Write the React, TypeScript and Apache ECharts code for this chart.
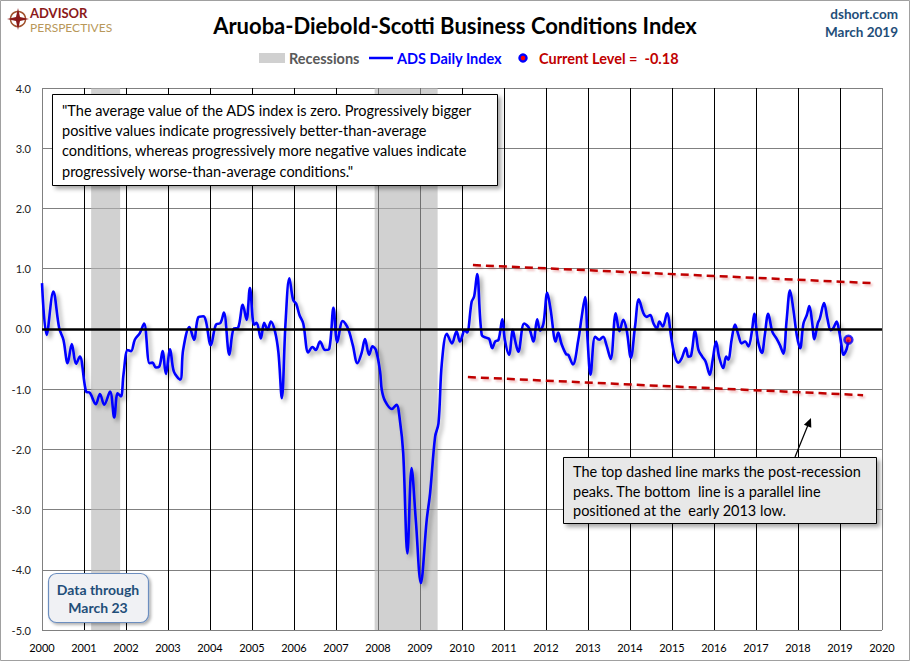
import { useEffect, useRef } from "react";
import * as echarts from "echarts";

// ADS index as [decimal year, value]
const adsIndex: [number, number][] = [
  [2000.0, 0.76], [2000.11, -0.1], [2000.27, 0.62], [2000.41, 0.01], [2000.51, -0.18],
  [2000.61, -0.57], [2000.71, -0.25], [2000.81, -0.58], [2000.9, -0.46], [2001.05, -1.04],
  [2001.14, -1.06], [2001.28, -1.25], [2001.38, -1.08], [2001.48, -1.26], [2001.62, -1.04],
  [2001.72, -1.47], [2001.8, -1.07], [2001.88, -1.12], [2001.94, -0.76], [2002.04, -0.35],
  [2002.12, -0.37], [2002.21, -0.18], [2002.33, -0.07], [2002.43, 0.09], [2002.56, -0.57],
  [2002.63, -0.56], [2002.71, -0.64], [2002.79, -0.63], [2002.87, -0.37], [2002.95, -0.75],
  [2003.05, -0.34], [2003.14, -0.71], [2003.29, -0.84], [2003.36, -0.35], [2003.51, 0.03],
  [2003.62, -0.18], [2003.72, 0.19], [2003.84, 0.21], [2003.9, 0.14], [2004.02, -0.27],
  [2004.14, 0.07], [2004.25, 0.1], [2004.33, 0.27], [2004.46, -0.43], [2004.56, 0.0],
  [2004.67, 0.02], [2004.78, 0.4], [2004.87, 0.15], [2004.95, 0.68], [2005.05, 0.07],
  [2005.11, 0.1], [2005.21, -0.16], [2005.29, 0.1], [2005.37, -0.01], [2005.45, 0.12],
  [2005.55, -0.05], [2005.63, -0.4], [2005.71, -1.15], [2005.8, 0.12], [2005.89, 0.84],
  [2005.98, 0.48], [2006.05, 0.42], [2006.13, 0.23], [2006.22, 0.09], [2006.34, -0.39],
  [2006.44, -0.3], [2006.52, -0.35], [2006.62, -0.21], [2006.74, -0.35], [2006.84, -0.33],
  [2006.94, 0.35], [2007.03, -0.22], [2007.16, 0.13], [2007.29, 0.0], [2007.4, -0.27],
  [2007.51, -0.57], [2007.61, -0.4], [2007.69, -0.17], [2007.79, -0.43], [2007.87, -0.29],
  [2007.95, -0.35], [2008.05, -0.71], [2008.09, -1.01], [2008.17, -1.2], [2008.33, -1.33],
  [2008.44, -1.26], [2008.52, -1.51], [2008.6, -2.06], [2008.7, -3.73], [2008.8, -2.31],
  [2008.9, -3.17], [2009.02, -4.22], [2009.16, -3.17], [2009.24, -2.73], [2009.36, -1.79],
  [2009.44, -1.57], [2009.52, -0.57], [2009.64, -0.08], [2009.76, -0.24], [2009.87, -0.04],
  [2009.95, -0.21], [2010.07, -0.02], [2010.12, -0.06], [2010.23, 0.45], [2010.29, 0.54],
  [2010.36, 0.91], [2010.47, -0.1], [2010.59, -0.15], [2010.65, -0.17], [2010.72, -0.32],
  [2010.79, -0.21], [2010.87, -0.18], [2010.96, 0.16], [2011.02, -0.18], [2011.12, -0.43],
  [2011.21, -0.02], [2011.26, -0.18], [2011.34, -0.38], [2011.48, 0.09], [2011.6, 0.01],
  [2011.7, -0.21], [2011.79, 0.16], [2011.86, -0.03], [2011.94, 0.09], [2012.03, 0.6],
  [2012.11, 0.32], [2012.23, -0.21], [2012.29, -0.06], [2012.37, -0.25], [2012.48, -0.42],
  [2012.53, -0.43], [2012.64, -0.59], [2012.77, -0.18], [2012.85, 0.2], [2012.93, 0.53],
  [2012.99, -0.18], [2013.06, -0.76], [2013.17, -0.13], [2013.27, -0.18], [2013.36, -0.13],
  [2013.44, -0.27], [2013.54, -0.5], [2013.66, 0.26], [2013.75, -0.04], [2013.84, 0.15],
  [2013.92, -0.02], [2014.02, -0.48], [2014.12, 0.04], [2014.21, 0.49], [2014.32, 0.26],
  [2014.4, 0.2], [2014.48, 0.23], [2014.56, 0.09], [2014.64, 0.01], [2014.7, 0.12],
  [2014.78, 0.04], [2014.88, 0.26], [2014.99, -0.18], [2015.07, -0.46], [2015.15, -0.56],
  [2015.23, -0.49], [2015.33, -0.32], [2015.39, -0.46], [2015.45, -0.45], [2015.55, -0.03],
  [2015.63, -0.35], [2015.72, -0.46], [2015.8, -0.54], [2015.9, -0.76], [2015.97, -0.51],
  [2016.05, -0.21], [2016.12, -0.46], [2016.22, -0.65], [2016.29, -0.46], [2016.34, -0.51],
  [2016.42, -0.18], [2016.5, 0.07], [2016.58, -0.1], [2016.66, -0.24], [2016.74, -0.21],
  [2016.82, -0.29], [2016.9, -0.05], [2016.96, 0.25], [2017.04, -0.18], [2017.14, -0.4],
  [2017.21, -0.1], [2017.29, 0.25], [2017.39, -0.05], [2017.49, -0.16], [2017.57, -0.27],
  [2017.65, -0.41], [2017.73, 0.15], [2017.81, 0.64], [2017.89, 0.32], [2017.97, -0.1],
  [2018.05, -0.32], [2018.13, 0.09], [2018.21, 0.23], [2018.27, 0.38], [2018.33, 0.15],
  [2018.39, -0.17], [2018.47, 0.09], [2018.52, 0.17], [2018.62, 0.43], [2018.7, 0.17],
  [2018.78, -0.02], [2018.84, 0.01], [2018.92, 0.12], [2018.98, -0.04], [2019.04, -0.29],
  [2019.08, -0.43], [2019.16, -0.33], [2019.2, -0.18],
];

const recessions: [number, number][] = [
  [2001.17, 2001.86],
  [2007.92, 2009.42],
];

const topTrend: [number, number][] = [[2010.26, 1.06], [2019.76, 0.76]];
const bottomTrend: [number, number][] = [[2010.14, -0.8], [2019.55, -1.1]];

const currentLevel: [number, number] = [2019.2, -0.18];

const quoteLines = [
  '"The average value of the ADS index is zero. Progressively bigger',
  "positive values indicate progressively better-than-average",
  "conditions, whereas progressively more negative values indicate",
  'progressively worse-than-average conditions."',
];
const noteLines = [
  "The top dashed line marks the post-recession",
  "peaks. The bottom  line is a parallel line",
  "positioned at the  early 2013 low.",
];

const FONT = "Lato, 'Open Sans', sans-serif";
const NAVY = "#1F4E79";
const RED = "#C00000";

// outer verticals gray, inner ones black
const xGridColors = Array.from({ length: 21 }, (_, i) => (i === 0 || i === 20 ? "#808080" : "#000000"));

export default function App() {
  const ref = useRef<HTMLDivElement>(null);

  useEffect(() => {
    if (!ref.current) return;
    const chart = echarts.init(ref.current, undefined, { renderer: "svg" });
    const label = (text: string, x: number, y: number, extra: object) => ({
      type: "text",
      z: 100,
      style: { text, x, y, textVerticalAlign: "middle", fontFamily: FONT, ...extra },
    });
    const option = {
      animation: false,
      backgroundColor: "#fff",
      textStyle: { fontFamily: FONT },
      grid: { left: 42, right: 28, top: 88, bottom: 31 },
      xAxis: {
        type: "value",
        min: 2000,
        max: 2020,
        interval: 1,
        axisLine: { show: false },
        axisTick: { show: false },
        axisLabel: { color: "#000", fontSize: 11, margin: 12, formatter: (v: number) => String(v) },
        splitLine: { show: true, lineStyle: { color: xGridColors, width: 1 } },
      },
      yAxis: {
        type: "value",
        min: -5,
        max: 4,
        interval: 1,
        axisLine: { show: false },
        axisTick: { show: false },
        axisLabel: { color: "#222", fontSize: 11, margin: 11, formatter: (v: number) => v.toFixed(1) },
        splitLine: { show: true, lineStyle: { color: "#808080", width: 1 } },
      },
      series: [
        {
          name: "Recessions",
          type: "line",
          z: 1,
          data: [],
          silent: true,
          markArea: {
            silent: true,
            itemStyle: { color: "rgba(180,180,180,0.62)" },
            data: recessions.map(([a, b]) => [{ xAxis: a }, { xAxis: b }]),
          },
        },
        {
          name: "zero",
          type: "line",
          z: 2,
          data: [],
          silent: true,
          markLine: {
            silent: true,
            symbol: "none",
            label: { show: false },
            lineStyle: { color: "#000", width: 2.5, type: "solid" },
            data: [{ yAxis: 0 }],
          },
        },
        {
          name: "ADS Daily Index",
          type: "line",
          z: 4,
          data: adsIndex,
          smooth: 0.35,
          showSymbol: false,
          lineStyle: {
            color: "#0000FF",
            width: 2.6,
            shadowColor: "rgba(0,0,0,0.35)",
            shadowBlur: 4,
            shadowOffsetX: 3,
            shadowOffsetY: 3,
          },
        },
        ...[topTrend, bottomTrend].map((d) => ({
          type: "line",
          z: 5,
          data: d,
          showSymbol: false,
          lineStyle: {
            color: RED,
            width: 2.5,
            type: [8, 5],
            shadowColor: "rgba(192,0,0,0.25)",
            shadowBlur: 2,
            shadowOffsetX: 2,
            shadowOffsetY: 2,
          },
        })),
        {
          name: "Current Level",
          type: "scatter",
          z: 6,
          data: [currentLevel],
          symbolSize: 8,
          itemStyle: { color: "#FF0000", borderColor: "#0000FF", borderWidth: 2.5 },
        },
      ],
      graphic: [
        { type: "rect", z: 100, silent: true, shape: { x: 0.5, y: 0.5, width: 909, height: 660 }, style: { fill: "none", stroke: "#A0A0A0", lineWidth: 1 } },
        // logo
        { type: "circle", z: 100, shape: { cx: 18, cy: 19, r: 7.5 }, style: { fill: "none", stroke: "#A0522D", lineWidth: 1.5 } },
        { type: "polygon", z: 100, shape: { points: [[18, 8], [20, 17], [29, 19], [20, 21], [18, 30], [16, 21], [7, 19], [16, 17]] }, style: { fill: "#8B1A1A" } },
        label("ADVISOR", 30, 13, { fill: "#8B1A1A", fontWeight: "bold", fontSize: 13 }),
        label("PERSPECTIVES", 30, 27.5, { fill: "#B8985A", fontSize: 12 }),
        // title and source
        label("Aruoba-Diebold-Scotti Business Conditions Index", 455, 25, { textAlign: "center", fill: "#000", fontWeight: "bold", fontSize: 22 }),
        label("dshort.com", 898, 14, { textAlign: "right", fill: NAVY, fontWeight: "bold", fontSize: 13.5 }),
        label("March 2019", 898, 32, { textAlign: "right", fill: NAVY, fontWeight: "bold", fontSize: 13.5 }),
        // legend
        { type: "rect", z: 100, shape: { x: 259, y: 53, width: 26, height: 10 }, style: { fill: "#D0D0D0" } },
        label("Recessions", 289, 58, { fill: "#595959", fontWeight: "bold", fontSize: 14.5 }),
        { type: "line", z: 100, shape: { x1: 369, y1: 58, x2: 393, y2: 58 }, style: { stroke: "#0000FF", lineWidth: 2.5 } },
        label("ADS Daily Index", 397, 58, { fill: "#0000FF", fontWeight: "bold", fontSize: 14.5 }),
        { type: "circle", z: 100, shape: { cx: 523, cy: 58, r: 3.5 }, style: { fill: "#FF0000", stroke: "#0000FF", lineWidth: 2.5 } },
        label(`Current Level =  ${currentLevel[1].toFixed(2)}`, 539, 58, { fill: RED, fontWeight: "bold", fontSize: 14.5 }),
        // quote box
        { type: "rect", z: 100, shape: { x: 52.5, y: 94.5, width: 445, height: 91 }, style: { fill: "#fff", stroke: "#000", lineWidth: 1, shadowColor: "rgba(0,0,0,0.35)", shadowBlur: 4, shadowOffsetX: 3, shadowOffsetY: 3 } },
        { type: "text", z: 101, style: { text: quoteLines.join("\n"), x: 62, y: 100, fill: "#000", fontFamily: FONT, fontSize: 14.5, lineHeight: 20.3 } },
        // note box
        { type: "rect", z: 100, shape: { x: 563.5, y: 457.5, width: 313, height: 66 }, style: { fill: "#E8E8E8", stroke: "#000", lineWidth: 1, shadowColor: "rgba(0,0,0,0.35)", shadowBlur: 4, shadowOffsetX: 3, shadowOffsetY: 3 } },
        { type: "text", z: 101, style: { text: noteLines.join("\n"), x: 573, y: 462, fill: "#000", fontFamily: FONT, fontSize: 14.5, lineHeight: 19.5 } },
        // arrow
        { type: "line", z: 100, shape: { x1: 795, y1: 457, x2: 808, y2: 425 }, style: { stroke: "#000", lineWidth: 1.2 } },
        { type: "polygon", z: 100, shape: { points: [[811, 418], [811.3, 427.8], [803.9, 424.8]] }, style: { fill: "#000" } },
        // data-through box
        { type: "rect", z: 100, shape: { x: 48.5, y: 573.5, width: 100, height: 49, r: 8 }, style: { fill: "#F0F1F4", stroke: "#6C8EBF", lineWidth: 1.2, shadowColor: "rgba(0,0,0,0.3)", shadowBlur: 3, shadowOffsetX: 2, shadowOffsetY: 2 } },
        { type: "text", z: 101, style: { text: "Data through\nMarch 23", x: 98, y: 598, textAlign: "center", textVerticalAlign: "middle", fill: NAVY, fontFamily: FONT, fontWeight: "bold", fontSize: 14, lineHeight: 18 } },
      ],
    };
    chart.setOption(option as any);
    return () => chart.dispose();
  }, []);

  return <div ref={ref} style={{ position: "absolute", left: 0, top: 0, width: 910, height: 661 }} />;
}
